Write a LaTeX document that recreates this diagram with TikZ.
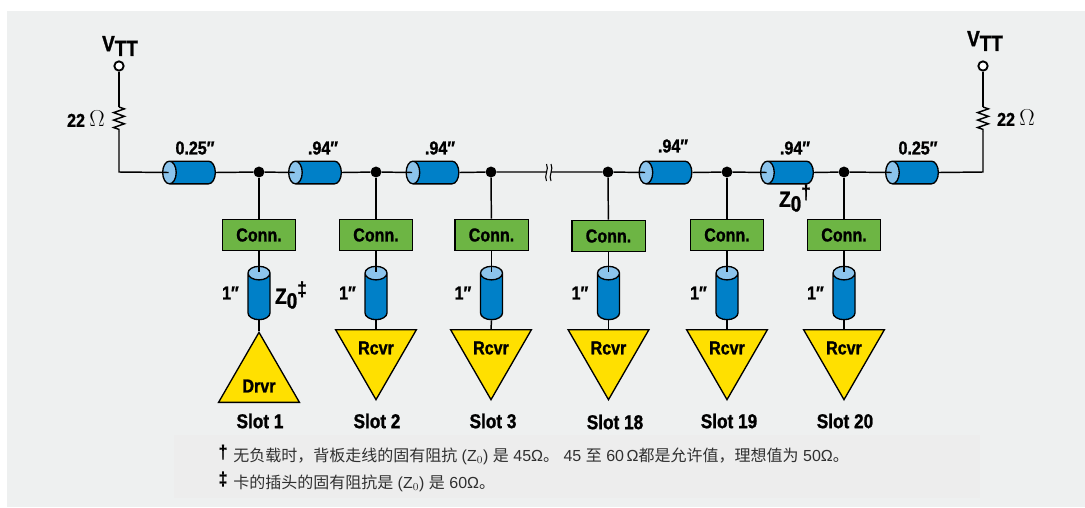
\documentclass[tikz,border=0pt]{standalone}
\usepackage{fontspec}
\setmainfont{Liberation Sans}
\newfontfamily\labelfont[FakeStretch=0.86,FakeBold=1.2]{Liberation Sans Bold}
\newfontfamily\cjk{Noto Sans CJK SC}
\usetikzlibrary{shapes.geometric,decorations.pathmorphing}
\definecolor{panelgray}{HTML}{EEF0F0}
\definecolor{notegray}{HTML}{EDEDED}
\definecolor{cablebody}{HTML}{0080C8}
\definecolor{cableend}{HTML}{8CC4EC}
\definecolor{connbox}{HTML}{6DB544}
\definecolor{ampyellow}{HTML}{FFE000}
\definecolor{notetext}{HTML}{303030}
\begin{document}
\begin{tikzpicture}[
		x=0.75pt,y=-0.75pt,
		wire/.style={line width=1.1pt},
		dot/.style={circle,fill=black,inner sep=0pt,minimum size=8.2pt},
		term/.style={circle,draw,fill=white,line width=1.4pt,inner sep=0pt,minimum size=7pt},
		res/.style={wire,decorate,decoration={zigzag,amplitude=4pt,segment length=5.6pt}},
		cable/.style={cylinder,anchor=shape center,draw,line width=1pt,shape aspect=0.62,inner sep=8.2pt,cylinder uses custom fill,cylinder body fill=cablebody,cylinder end fill=cableend},
		hcable/.style={cable,shape border rotate=180,minimum height=39.5pt,minimum width=17pt},
		vcable/.style={cable,shape border rotate=90,minimum height=40pt,minimum width=16.5pt},
		conn/.style={draw,fill=connbox,line width=1pt,minimum width=55pt,minimum height=23.5pt,inner sep=0pt,font=\labelfont\fontsize{14}{14}\selectfont},
		drvr/.style={isosceles triangle,isosceles triangle apex angle=60,shape border rotate=90,draw,fill=ampyellow,line width=1pt,inner sep=0pt,minimum height=52.5pt,minimum width=60pt,anchor=apex},
		rcvr/.style={drvr,shape border rotate=-90},
		lab/.style={font=\labelfont\fontsize{14}{14}\selectfont,inner sep=0pt},
		slotlab/.style={font=\labelfont\fontsize{15}{15}\selectfont,inner sep=0pt},
		tall/.style={font=\labelfont\fontsize{16.5}{16.5}\selectfont,inner sep=0pt},
		note/.style={anchor=base west,inner sep=0pt,text=notetext,font=\fontsize{12}{12}\selectfont}]
	\useasboundingbox (0,0) rectangle (1085,507);
	\fill[panelgray] (7,11) rectangle (1085,507);
	\fill[notegray] (174,435) rectangle (980,498);
	% main line
	\coordinate (tl) at (119,172);
	\coordinate (tr) at (983,172);
	\coordinate (rl1) at (119,107);
	\coordinate (rl2) at (119,131);
	\coordinate (rr1) at (983,107);
	\coordinate (rr2) at (983,131);
	\node[term] (vl) at (119,66) {};
	\node[term] (vr) at (983,66) {};
	\node[dot] (j1) at (259,172) {};
	\node[dot] (j2) at (376,172) {};
	\node[dot] (j3) at (491,172) {};
	\node[dot] (j18) at (608,172) {};
	\node[dot] (j19) at (727,172) {};
	\node[dot] (j20) at (844,172) {};
	\node[hcable] (c1) at (189,172.5) {};
	\node[hcable] (c2) at (315,172.5) {};
	\node[hcable] (c3) at (432.5,172.5) {};
	\node[hcable] (c18) at (665.5,172.5) {};
	\node[hcable] (c19) at (787,172.5) {};
	\node[hcable] (c20) at (912,172.5) {};
	\coordinate (brk) at (548,172);
	\draw[wire] (vl) -- (rl1);
	\draw[res] (rl1) -- (rl2);
	\draw[wire] (rl2) -- (tl) -- ([xshift=5pt]c1.top);
	\draw[wire] (c1.bottom) -- (j1) -- ([xshift=5pt]c2.top);
	\draw[wire] (c2.bottom) -- (j2) -- ([xshift=5pt]c3.top);
	\draw[wire] (c3.bottom) -- (j3) -- (brk) -- (j18) -- ([xshift=5pt]c18.top);
	\draw[wire] (c18.bottom) -- (j19) -- ([xshift=5pt]c19.top);
	\draw[wire] (c19.bottom) -- (j20) -- ([xshift=5pt]c20.top);
	\draw[wire] (c20.bottom) -- (tr) -- (rr2);
	\draw[res] (rr1) -- (rr2);
	\draw[wire] (vr) -- (rr1);
	% line break
	\fill[panelgray] (546.5,167) rectangle (550.5,177);
	\draw[line width=0.8pt] (546.5,164) .. controls (549.5,169) and (543.5,176) .. (546.5,181);
	\draw[line width=0.8pt] (551,164) .. controls (554,169) and (548,176) .. (551,181);
	% slots
	\foreach \nm/\x/\yy/\lx/\ly in {1/259/235/260/421,2/376/235/377/421,3/491.5/235/493/421,18/608.5/236/615/422,19/727/235/729/421,20/844/235/845/421}{
		\node[conn] (k\nm) at (\x,\yy) {Conn.};
		\draw[wire] (j\nm) -- (k\nm);
		\node[vcable] (s\nm) at (\x,293) {};
		\draw[wire] (k\nm) -- ([yshift=-5pt]s\nm.top);
		\node[slotlab] (n\nm) at (\lx,\ly) {Slot \nm};
		\node[lab,anchor=east] (i\nm) at (\x-20,293) {1″};
	}
	\node[drvr] (a1) at (259,331) {};
	\node[lab] (t1) at (259,386) {Drvr};
	\draw[wire] (s1.bottom) -- (a1.apex);
	\foreach \nm/\x in {2/376,3/491,18/608.5,19/727,20/844}{
		\node[rcvr] (a\nm) at (\x,401) {};
		\node[lab] (t\nm) at (\x,348) {Rcvr};
		\draw[wire] (s\nm.bottom) -- (a\nm.north);
	}
	% labels
	\node[tall] (tv1) at (120,46) {V\raisebox{-3.5pt}{TT}};
	\node[tall] (tv2) at (985,41) {V\raisebox{-3.5pt}{TT}};
	\node[lab] (tr1) at (86,119) {22 {\normalfont\fontsize{16}{16}\selectfont$\Omega$}};
	\node[lab] (tr2) at (1016,118) {22 {\normalfont\fontsize{16}{16}\selectfont$\Omega$}};
	\node[lab] (l1) at (195,148) {0.25″};
	\node[lab] (l2) at (323,148) {.94″};
	\node[lab] (l3) at (440,148) {.94″};
	\node[lab] (l18) at (673,146) {.94″};
	\node[lab] (l19) at (795,148) {.94″};
	\node[lab] (l20) at (918,148) {0.25″};
	\node[tall] (z1) at (291,295) {Z\raisebox{-3.5pt}{0}\raisebox{6pt}{\fontsize{15}{15}\selectfont\ddag}};
	\node[tall] (z2) at (795,198) {Z\raisebox{-3.5pt}{0}\raisebox{6pt}{\fontsize{15}{15}\selectfont\dag}};
	% notes
	\node[lab] (d1) at (223,452) {\dag};
	\node[lab] (d2) at (223,479) {\ddag};
	\node[note] (n1) at (233,461) {{\cjk 无负载时，背板走线的固有阻抗} (Z$_0$) {\cjk 是} 45Ω{\cjk 。} 45 {\cjk 至} 60\,Ω{\cjk 都是允许值，理想值为} 50Ω{\cjk 。}};
	\node[note] (n2) at (233,488) {{\cjk 卡的插头的固有阻抗是} (Z$_0$) {\cjk 是} 60Ω{\cjk 。}};
\end{tikzpicture}
\end{document}
